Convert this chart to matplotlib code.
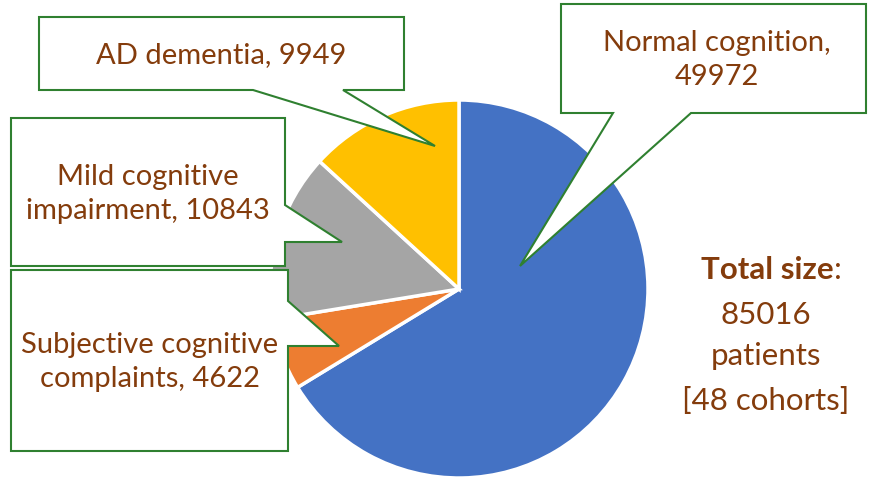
import matplotlib.pyplot as plt
from matplotlib.patches import Polygon

# pie data (clockwise from 12 o'clock)
groups = ['Normal cognition', 'Subjective cognitive\ncomplaints', 'Mild cognitive\nimpairment', 'AD dementia']
counts = [49972, 4622, 10843, 9949]
colors = ['#4472C4', '#ED7D31', '#A5A5A5', '#FFC000']
total_patients = 85016
n_cohorts = 48

W, H = 869, 481
txt_col = '#843C0C'
box_col = '#2F8030'
plt.rcParams['font.family'] = ['Lato', 'DejaVu Sans']

def P(x, y):
    # pixel (top-left origin) -> data coords
    return (x, H - y)

fig = plt.figure(figsize=(W / 100, H / 100), dpi=100)
ax = fig.add_axes([0, 0, 1, 1])
ax.pie(counts, colors=colors, startangle=90, counterclock=False,
       center=P(459, 290), radius=189,
       wedgeprops=dict(edgecolor='white', linewidth=2.5))
ax.set_xlim(0, W)
ax.set_ylim(0, H)
ax.axis('off')

# callout outlines (box + pointer), pixel coords
callouts = [
    [(39, 18), (404, 18), (404, 91), (343, 91), (435, 147), (253, 91), (39, 91)],
    [(561, 5), (866, 5), (866, 114), (691, 114), (520, 267), (613, 114), (561, 114)],
    [(11, 119), (285, 119), (285, 206), (342, 243), (285, 243), (285, 267), (11, 267)],
    [(11, 271), (288, 271), (288, 302), (339, 347), (288, 347), (288, 452), (11, 452)],
]
for pts in callouts:
    ax.add_patch(Polygon([P(x, y) for x, y in pts], closed=True, facecolor='white',
                         edgecolor=box_col, linewidth=1.5, zorder=5))

fs = 21
labels = [
    (f'{groups[3]}, {counts[3]}', 221, 55),
    (f'{groups[0]},\n{counts[0]}', 717, 60),
    (f'{groups[2]}, {counts[2]}', 148, 194),
    (f'{groups[1]}, {counts[1]}', 150, 362),
]
for s, x, y in labels:
    ax.text(*P(x, y), s, ha='center', va='center', fontsize=fs, color=txt_col,
            linespacing=1.35, zorder=6)

fs2 = 22.5
ax.text(*P(834, 270), 'Total size', ha='right', va='center', fontsize=fs2,
        fontweight='bold', color=txt_col)
ax.text(*P(834, 270), ':', ha='left', va='center', fontsize=fs2, color=txt_col)
ax.text(*P(766, 315), str(total_patients), ha='center', va='center', fontsize=fs2, color=txt_col)
ax.text(*P(766, 356), 'patients', ha='center', va='center', fontsize=fs2, color=txt_col)
ax.text(*P(766, 401), f'[{n_cohorts} cohorts]', ha='center', va='center', fontsize=fs2, color=txt_col)

fig.savefig('out.png', dpi=100)
